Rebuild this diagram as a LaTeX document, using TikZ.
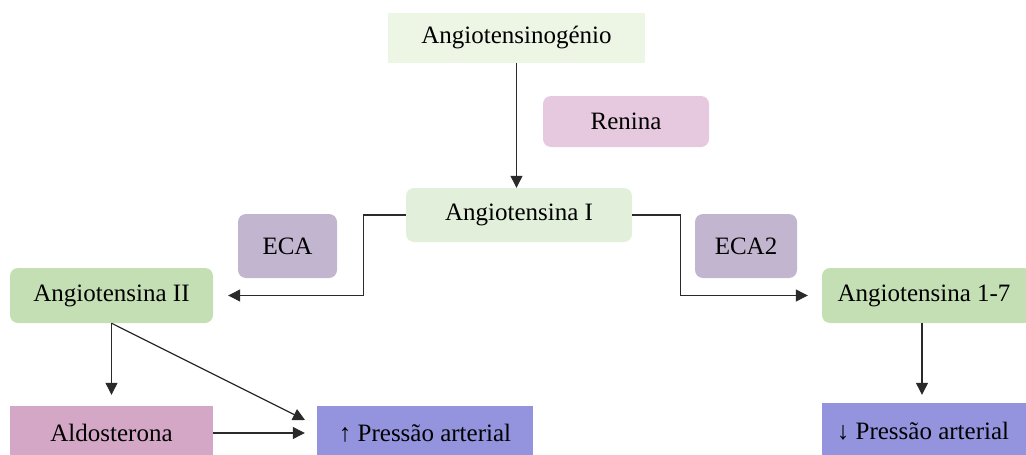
\documentclass[tikz,border=0pt]{standalone}
\usepackage{fontspec}
\setmainfont{Liberation Serif}
\usetikzlibrary{arrows.meta,calc}
\definecolor{cAng0}{HTML}{EDF5E5}
\definecolor{cRen}{HTML}{E6C9DF}
\definecolor{cAng1}{HTML}{E2EFDA}
\definecolor{cEca}{HTML}{C2B5CF}
\definecolor{cAng2}{HTML}{C5DFB5}
\definecolor{cAldo}{HTML}{D5A7C7}
\definecolor{cPres}{HTML}{9494DE}
\definecolor{cLine}{HTML}{2A2A2A}
\begin{document}
\begin{tikzpicture}[x=1pt,y=-1pt,
  box/.style={inner sep=0pt, font=\fontsize{25}{29}\selectfont, text=black},
  rbox/.style={box, rounded corners=8pt},
  conn/.style={draw=cLine, line width=1.2pt, -{Triangle[length=12pt,width=12pt]}}]
\useasboundingbox (0,0) rectangle (1026,455);
\node[box, fill=cAng0, minimum width=257pt, minimum height=50pt] (ang0) at (516.5,38) {Angiotensinogénio};
\node[rbox, fill=cRen, minimum width=166pt, minimum height=51pt] (ren) at (626,121.5) {Renina};
\node[rbox, fill=cAng1, minimum width=226pt, minimum height=54pt] (ang1) at (519,215) {Angiotensina I};
\node[rbox, fill=cEca, minimum width=99pt, minimum height=64pt] (eca) at (287.5,246) {ECA};
\node[rbox, fill=cEca, minimum width=102pt, minimum height=64pt] (eca2) at (746,246) {ECA2};
\node[rbox, fill=cAng2, minimum width=203pt, minimum height=55pt] (ang2) at (111.5,295.5) {Angiotensina II};
\node[rbox, fill=cAng2, minimum width=210pt, minimum height=55pt] (ang17) at (927,295.5) {\hspace*{-6pt}Angiotensina 1-7};
\node[box, fill=cAldo, minimum width=203pt, minimum height=54pt] (aldo) at (111.5,433) {Aldosterona};
\node[box, fill=cPres, minimum width=216pt, minimum height=54pt] (pup) at (425,433) {↑ Pressão arterial};
\node[box, fill=cPres, minimum width=210pt, minimum height=56pt] (pdown) at (927,431) {\hspace*{-8pt}↓ Pressão arterial};
\coordinate (tipup) at (305,420);
\draw[conn] (ang0.south) -- (ang0.south |- ang1.north);
\draw[conn, shorten >=15pt] (ang1.west) -- ++(-42,0) |- (ang2.east);
\draw[conn, shorten >=14pt] (ang1.east) -- ++(48,0) |- (ang17.west);
\draw[conn, shorten >=11pt] (ang2.south) -- (aldo.north);
\draw[conn] (ang2.south) -- (tipup);
\draw[conn, shorten >=12pt] (aldo.east) -- (pup.west);
\draw[conn, shorten >=8pt] (ang17.south -| pdown.north) ++(-5,0) -- ($(pdown.north)+(-5,0)$);
\end{tikzpicture}
\end{document}
